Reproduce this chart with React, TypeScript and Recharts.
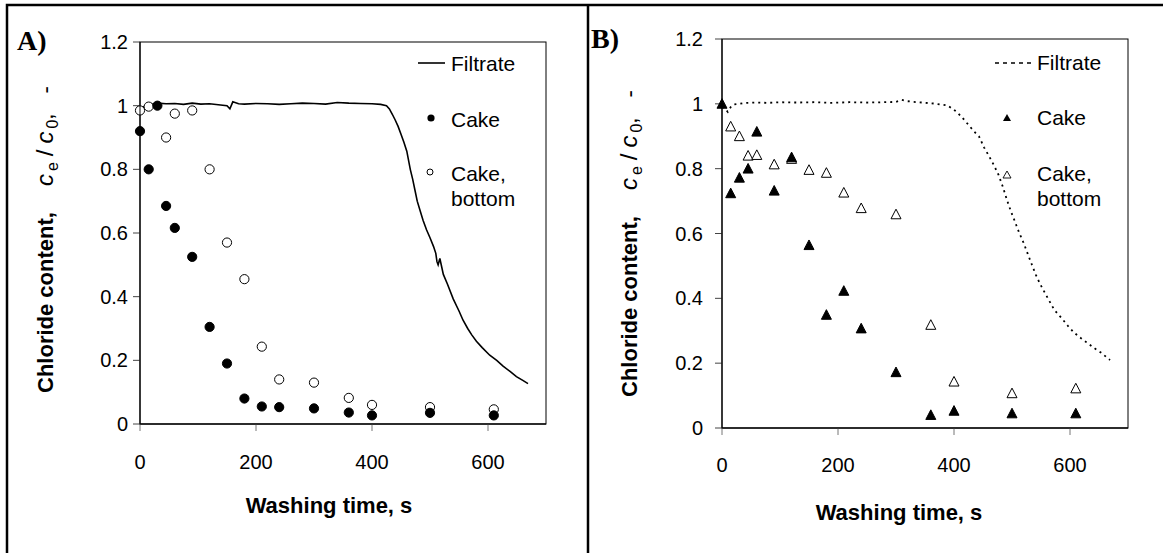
import { ComposedChart, Line, Scatter, XAxis, YAxis } from 'recharts'

// Panel A: filtrate curve (solid), cake and cake-bottom samples (circles)
const filtrateTimeA = [
  0, 5, 10, 20, 30, 45, 60, 75, 90, 105, 120, 135, 150, 155, 160, 170, 180, 200, 220, 240,
  260, 280, 300, 320, 340, 360, 380, 400, 415, 425, 430, 435, 440, 445, 450, 455, 460, 466,
  470, 474, 478, 483, 488, 494, 500, 506, 510, 512, 514, 517, 523, 530, 540, 550, 557, 565,
  572, 580, 590, 603, 615, 626, 638, 649, 660, 669,
]
const filtrateA = [
  0.99, 0.995, 1.0, 1.005, 1.008, 1.006, 1.007, 1.004, 1.008, 1.005, 1.006, 1.003, 1.0, 0.99,
  1.012, 1.006, 1.005, 1.007, 1.006, 1.004, 1.006, 1.008, 1.007, 1.005, 1.01, 1.008, 1.007,
  1.006, 1.004, 1.0, 0.99, 0.973, 0.955, 0.935, 0.91, 0.885, 0.857, 0.8, 0.77, 0.735, 0.7, 0.67,
  0.64, 0.61, 0.585, 0.558, 0.536, 0.51, 0.5, 0.52, 0.47, 0.44, 0.393, 0.355, 0.326, 0.3, 0.28,
  0.26, 0.24, 0.216, 0.2, 0.182, 0.165, 0.149, 0.137, 0.127,
]
const cakeTimeA = [0, 15, 30, 45, 60, 90, 120, 150, 180, 210, 240, 300, 360, 400, 500, 610]
const cakeA = [0.92, 0.8, 1.0, 0.685, 0.616, 0.525, 0.305, 0.19, 0.08, 0.055, 0.053, 0.049, 0.036, 0.027, 0.035, 0.027]
const cakeBottomTimeA = [0, 15, 45, 60, 90, 120, 150, 180, 210, 240, 300, 360, 400, 500, 610]
const cakeBottomA = [0.985, 0.997, 0.9, 0.975, 0.985, 0.8, 0.57, 0.455, 0.243, 0.14, 0.13, 0.082, 0.06, 0.053, 0.046]

// Panel B: filtrate curve (dotted), cake and cake-bottom samples (triangles)
const filtrateTimeB = [
  0, 5, 10, 15, 20, 30, 40, 60, 80, 100, 130, 160, 190, 220, 250, 280, 300, 310, 320, 330, 345,
  365, 389, 405, 417, 426, 435, 443, 452, 460, 469, 477, 484, 491, 498, 505, 512, 520, 527, 534,
  541, 548, 556, 565, 573, 585, 596, 607, 619, 631, 643, 654, 662, 669,
]
const filtrateB = [
  0.99, 0.985, 0.975, 0.99, 0.998, 1.0, 1.003, 1.004, 1.003, 1.005, 1.004, 1.005, 1.003, 1.005,
  1.004, 1.005, 1.006, 1.012, 1.008, 1.006, 1.004, 1.001, 0.995, 0.975, 0.952, 0.933, 0.914, 0.9,
  0.865, 0.84, 0.81, 0.78, 0.745, 0.705, 0.669, 0.637, 0.604, 0.571, 0.538, 0.505, 0.473, 0.446,
  0.419, 0.39, 0.364, 0.34, 0.316, 0.294, 0.277, 0.261, 0.245, 0.232, 0.22, 0.21,
]
const cakeTimeB = [0, 15, 30, 45, 60, 90, 120, 150, 180, 210, 240, 300, 360, 400, 500, 610]
const cakeB = [1.0, 0.724, 0.772, 0.8, 0.914, 0.732, 0.835, 0.564, 0.349, 0.423, 0.307, 0.172, 0.04, 0.053, 0.045, 0.045]
const cakeBottomTimeB = [15, 30, 45, 60, 90, 120, 150, 180, 210, 240, 300, 360, 400, 500, 610]
const cakeBottomB = [0.93, 0.9, 0.84, 0.842, 0.813, 0.83, 0.796, 0.787, 0.726, 0.678, 0.659, 0.318, 0.143, 0.107, 0.122]

const xTicks = [0, 200, 400, 600]
const yTicks = [0, 0.2, 0.4, 0.6, 0.8, 1, 1.2]

const FONT = '"Liberation Sans", Arial, sans-serif'

const pts = (xs: number[], ys: number[]) => xs.map((x, i) => ({ x, y: ys[i] }))

const circle = (fill: string) => (p: any) =>
  <circle cx={p.cx} cy={p.cy} r={4.6} fill={fill} stroke="#000" strokeWidth={1} />

const triangle = (fill: string) => (p: any) =>
  <path
    d={`M${p.cx},${p.cy - 5.2} L${p.cx + 5},${p.cy + 4.4} L${p.cx - 5},${p.cy + 4.4} Z`}
    fill={fill}
    stroke="#000"
    strokeWidth={1}
  />

interface PanelProps {
  left: number
  width: number
  top: number
  axisY: number
  plotLeft: number
  plotRight: number
  xTickMargin: number
  yTickMargin: number
  filtrate: { x: number; y: number }[]
  dash?: string
  bottom: { x: number; y: number }[]
  cake: { x: number; y: number }[]
  marker: (fill: string) => (p: any) => JSX.Element
}

function Panel(p: PanelProps) {
  const tick = { fontSize: 20, fill: '#000', fontFamily: FONT }
  return (
    <div style={{ position: 'absolute', left: p.left, top: 0 }}>
      <ComposedChart
        width={p.width}
        height={553}
        margin={{ top: p.top, right: p.left + p.width - p.plotRight, left: 0, bottom: 0 }}
      >
        <XAxis
          type="number"
          dataKey="x"
          domain={[0, 700]}
          ticks={xTicks}
          height={553 - p.axisY}
          tick={tick}
          tickSize={7}
          tickMargin={p.xTickMargin}
          axisLine={{ stroke: '#222', strokeWidth: 1.3 }}
          tickLine={{ stroke: '#777' }}
        />
        <YAxis
          type="number"
          dataKey="y"
          domain={[0, 1.2]}
          ticks={yTicks}
          width={p.plotLeft - p.left}
          tick={tick}
          tickSize={7}
          tickMargin={p.yTickMargin}
          tickFormatter={(v: number) => String(Number(v.toFixed(1)))}
          axisLine={{ stroke: '#222', strokeWidth: 1.3 }}
          tickLine={{ stroke: '#444' }}
        />
        <Line
          data={p.filtrate}
          dataKey="y"
          type="linear"
          stroke="#000"
          strokeWidth={p.dash ? 1.8 : 1.6}
          strokeDasharray={p.dash}
          dot={false}
          activeDot={false}
          isAnimationActive={false}
        />
        <Scatter data={p.bottom} dataKey="y" shape={p.marker('#fff')} isAnimationActive={false} />
        <Scatter data={p.cake} dataKey="y" shape={p.marker('#000')} isAnimationActive={false} />
      </ComposedChart>
    </div>
  )
}

function YTitle({ x, y }: { x: number; y: number }) {
  return (
    <text x={x} y={y} transform={`rotate(-90, ${x}, ${y})`} fontFamily={FONT} fontSize={22} fill="#000">
      <tspan fontWeight="bold">Chloride content,</tspan>
      <tspan dx={26} fontSize={24} fontStyle="italic" letterSpacing={3}>c</tspan>
      <tspan fontSize={16} dy={5} letterSpacing={6}>e</tspan>
      <tspan fontSize={24} dy={-5} letterSpacing={6}>/</tspan>
      <tspan fontSize={24} fontStyle="italic" letterSpacing={3}>c</tspan>
      <tspan fontSize={16} dy={5}>0</tspan>
      <tspan dy={-5} fontSize={22} letterSpacing={7}>, -</tspan>
    </text>
  )
}

export default function App() {
  return (
    <div style={{ position: 'absolute', left: 0, top: 0, width: 1163, height: 553, background: '#fff', fontFamily: FONT }}>
      <Panel
        left={0}
        width={588}
        top={42}
        axisY={424}
        plotLeft={140}
        plotRight={546}
        xTickMargin={24}
        yTickMargin={5}
        filtrate={pts(filtrateTimeA, filtrateA)}
        bottom={pts(cakeBottomTimeA, cakeBottomA)}
        cake={pts(cakeTimeA, cakeA)}
        marker={circle}
      />
      <Panel
        left={588}
        width={575}
        top={39}
        axisY={428}
        plotLeft={722}
        plotRight={1128}
        xTickMargin={23}
        yTickMargin={12}
        filtrate={pts(filtrateTimeB, filtrateB)}
        dash="2 4"
        bottom={pts(cakeBottomTimeB, cakeBottomB)}
        cake={pts(cakeTimeB, cakeB)}
        marker={triangle}
      />
      <svg width={1163} height={553} style={{ position: 'absolute', left: 0, top: 0, pointerEvents: 'none' }}>
        {/* outer frames */}
        <rect x={7} y={5} width={1160} height={600} fill="none" stroke="#000" strokeWidth={2.5} />
        <line x1={588} y1={5} x2={588} y2={553} stroke="#000" strokeWidth={2.5} />
        {/* plot boxes */}
        <rect x={140} y={42} width={406} height={382} fill="none" stroke="#000" strokeWidth={1} />
        <rect x={722} y={39} width={406} height={389} fill="none" stroke="#000" strokeWidth={1} />

        <text x={17} y={50} fontFamily='"Liberation Serif", serif' fontWeight="bold" fontSize={28}>A)</text>
        <text x={591} y={48} fontFamily='"Liberation Serif", serif' fontWeight="bold" fontSize={28}>B)</text>

        <YTitle x={53} y={393} />
        <YTitle x={637} y={397} />

        <text x={329} y={513} textAnchor="middle" fontWeight="bold" fontSize={22}>Washing time, s</text>
        <text x={899} y={520} textAnchor="middle" fontWeight="bold" fontSize={22}>Washing time, s</text>

        {/* legend A */}
        <line x1={418} y1={63} x2={445} y2={63} stroke="#000" strokeWidth={1.6} />
        <text x={451} y={71} fontSize={21}>Filtrate</text>
        <circle cx={431} cy={118} r={3.6} fill="#000" />
        <text x={451} y={127} fontSize={21}>Cake</text>
        <circle cx={430} cy={172} r={3} fill="#fff" stroke="#000" strokeWidth={1} />
        <text x={451} y={181} fontSize={21}>Cake,</text>
        <text x={451} y={206} fontSize={21}>bottom</text>

        {/* legend B */}
        <line x1={995} y1={63} x2={1033} y2={63} stroke="#000" strokeWidth={1.6} strokeDasharray="4 4" />
        <text x={1037} y={70} fontSize={21}>Filtrate</text>
        <path d="M1007,114 L1011,121 L1003,121 Z" fill="#000" />
        <text x={1037} y={125} fontSize={21}>Cake</text>
        <path d="M1007,171 L1011,178 L1003,178 Z" fill="#fff" stroke="#000" strokeWidth={0.9} />
        <text x={1037} y={181} fontSize={21}>Cake,</text>
        <text x={1037} y={206} fontSize={21}>bottom</text>
      </svg>
    </div>
  )
}
